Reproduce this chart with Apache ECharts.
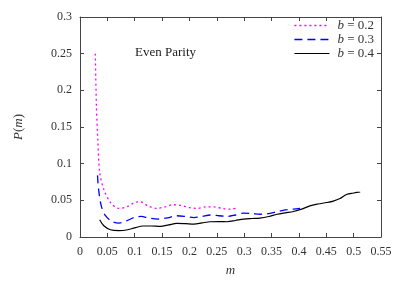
<!DOCTYPE html>
<html><head><meta charset="utf-8">
<script src="https://cdn.jsdelivr.net/npm/echarts@6/dist/echarts.min.js"></script>
<style>html,body{margin:0;padding:0;background:#fff}#c{width:407px;height:282px}</style>
</head><body><div id="c"></div>
<script>
const xTicks = [0,0.05,0.1,0.15,0.2,0.25,0.3,0.35,0.4,0.45,0.5,0.55];
const yTicks = [0,0.05,0.1,0.15,0.2,0.25,0.3];
const seriesNames = ['b = 0.2','b = 0.3','b = 0.4'];
const annotation = 'Even Parity';

const m02 = [0.028,0.030,0.0325,0.036,0.0435,0.0557,0.071,0.085,0.100,0.110,0.125,0.140,0.155,0.170,0.185,0.200,0.215,0.230,0.245,0.260,0.275,0.288];
const p02 = [0.250,0.178,0.133,0.088,0.065,0.047,0.039,0.041,0.047,0.048,0.042,0.039,0.041,0.044,0.043,0.040,0.039,0.041,0.041,0.039,0.038,0.040];

const m03 = [0.032,0.034,0.039,0.0466,0.0588,0.071,0.085,0.100,0.112,0.125,0.142,0.160,0.177,0.193,0.208,0.223,0.238,0.254,0.269,0.284,0.299,0.314,0.329,0.345,0.360,0.375,0.390,0.402];
const p03 = [0.084,0.065,0.042,0.029,0.021,0.019,0.022,0.027,0.028,0.026,0.0245,0.026,0.029,0.028,0.0265,0.028,0.030,0.029,0.028,0.030,0.0325,0.032,0.031,0.032,0.0345,0.037,0.038,0.039];

const m04 = [0.036,0.0435,0.0557,0.071,0.085,0.100,0.115,0.130,0.147,0.162,0.177,0.193,0.208,0.223,0.238,0.254,0.269,0.284,0.299,0.314,0.329,0.345,0.360,0.375,0.390,0.405,0.420,0.435,0.451,0.463,0.475,0.487,0.500,0.512];
const p04 = [0.0235,0.0153,0.0099,0.0088,0.0095,0.0125,0.0150,0.0150,0.0145,0.0165,0.0186,0.0182,0.0176,0.0192,0.0208,0.0210,0.0208,0.0225,0.0244,0.0252,0.0258,0.028,0.031,0.033,0.0348,0.038,0.0425,0.045,0.047,0.049,0.0525,0.058,0.060,0.0615];

const zip = (a,b)=>a.map((v,i)=>[v,b[i]]);
const FONT = 'Liberation Serif';
const AX = '#444';
const fmt = v => String(+v.toFixed(3));
const lineStyles = [
  {color:'#ff00ff',width:1.3,type:[2,3]},
  {color:'#0000ff',width:1.3,type:[8,5]},
  {color:'#000000',width:1.2,type:'solid'}
];

function axisBase(extra){
  return Object.assign({
    type:'value',
    axisLine:{show:true,onZero:false,lineStyle:{color:AX,width:1}},
    axisTick:{show:true,inside:true,length:4,lineStyle:{color:AX}},
    splitLine:{show:false},
    axisLabel:{fontFamily:FONT,fontSize:12,color:'#333',formatter:fmt}
  },extra);
}

const chart = echarts.init(document.getElementById('c'),null,{renderer:'canvas'});
chart.setOption({
  animation:false,
  backgroundColor:'#fff',
  grid:{left:80,right:26,top:17,bottom:44,containLabel:false},
  xAxis:[
    axisBase({min:xTicks[0],max:xTicks[xTicks.length-1],interval:0.05,position:'bottom',
      name:'m',nameLocation:'middle',nameGap:27,
      nameTextStyle:{fontFamily:FONT,fontSize:13,fontStyle:'italic',color:'#333'},
      axisLabel:{fontFamily:FONT,fontSize:12,color:'#333',margin:9,formatter:fmt}}),
    axisBase({min:xTicks[0],max:xTicks[xTicks.length-1],interval:0.05,position:'top',axisLabel:{show:false}})
  ],
  yAxis:[
    axisBase({min:yTicks[0],max:yTicks[yTicks.length-1],interval:0.05,position:'left',
      name:'{i|P}({i|m})',nameLocation:'middle',nameGap:55,nameRotate:90,
      nameTextStyle:{fontFamily:FONT,fontSize:13,color:'#333',rich:{i:{fontFamily:FONT,fontSize:13,fontStyle:'italic',color:'#333'}}},
      axisLabel:{fontFamily:FONT,fontSize:12,color:'#333',margin:8,formatter:fmt}}),
    axisBase({min:yTicks[0],max:yTicks[yTicks.length-1],interval:0.05,position:'right',axisLabel:{show:false}})
  ],
  legend:{
    right:33,top:19,orient:'vertical',itemWidth:35,itemHeight:10,itemGap:1,padding:0,
    align:'left',
    data:seriesNames.map((n,i)=>({name:n,lineStyle:Object.assign({},lineStyles[i])})),
    itemStyle:{opacity:0},
    formatter:n=>'{i|b}'+n.slice(1),
    textStyle:{fontFamily:FONT,fontSize:13,lineHeight:13,color:'#333',padding:[0,0,0,3],
      rich:{i:{fontFamily:FONT,fontSize:13,lineHeight:13,fontStyle:'italic',color:'#333'}}}
  },
  graphic:[{type:'text',left:135,top:46,style:{text:annotation,fontFamily:FONT,fontSize:13,fill:'#222'}}],
  series:[
    {name:seriesNames[0],type:'line',data:zip(m02,p02),smooth:0.3,symbol:'none',
      lineStyle:lineStyles[0],itemStyle:{color:lineStyles[0].color}},
    {name:seriesNames[1],type:'line',data:zip(m03,p03),smooth:0.3,symbol:'none',
      lineStyle:lineStyles[1],itemStyle:{color:lineStyles[1].color}},
    {name:seriesNames[2],type:'line',data:zip(m04,p04),smooth:0.3,symbol:'none',
      lineStyle:lineStyles[2],itemStyle:{color:lineStyles[2].color}}
  ]
});
</script></body></html>
